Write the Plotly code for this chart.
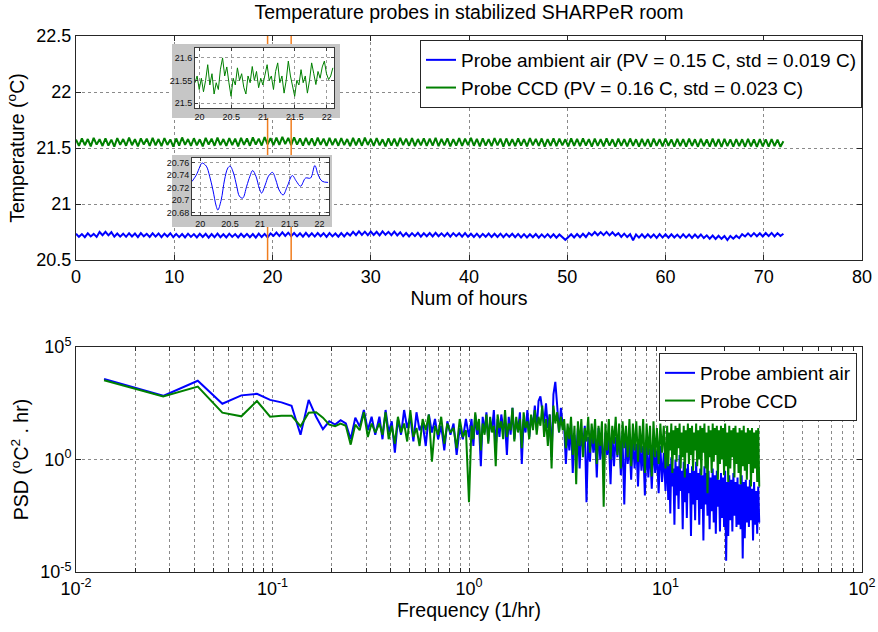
import numpy as np
import plotly.graph_objects as go

FONT = "Liberation Sans, Arial, sans-serif"
BLUE = "#0000ff"
GREEN = "#008000"
ORANGE = "#f07d1e"

# ---------------- data: temperature time series (every 0.3 h) ----------------
hours = np.round(np.arange(241) * 0.3, 1)
temp_air = [
    20.735, 20.707, 20.731, 20.704, 20.738, 20.71, 20.733, 20.706, 20.75, 20.722,
    20.752, 20.72, 20.748, 20.708, 20.737, 20.709, 20.735, 20.707, 20.739, 20.71,
    20.736, 20.705, 20.74, 20.711, 20.734, 20.706, 20.738, 20.709, 20.737, 20.704,
    20.735, 20.71, 20.739, 20.703, 20.733, 20.704, 20.732, 20.702, 20.735, 20.706,
    20.731, 20.701, 20.734, 20.705, 20.733, 20.7, 20.732, 20.703, 20.736, 20.704,
    20.73, 20.702, 20.735, 20.706, 20.731, 20.701, 20.734, 20.705, 20.733, 20.703,
    20.732, 20.7, 20.736, 20.705, 20.733, 20.702, 20.737, 20.716, 20.745, 20.714,
    20.747, 20.715, 20.744, 20.713, 20.741, 20.711, 20.739, 20.708, 20.742, 20.71,
    20.738, 20.709, 20.741, 20.712, 20.739, 20.707, 20.74, 20.711, 20.737, 20.708,
    20.74, 20.71, 20.742, 20.718, 20.752, 20.722, 20.755, 20.724, 20.753, 20.721,
    20.754, 20.723, 20.752, 20.72, 20.756, 20.725, 20.751, 20.722, 20.754, 20.72,
    20.748, 20.712, 20.741, 20.71, 20.74, 20.713, 20.742, 20.709, 20.739, 20.712,
    20.741, 20.71, 20.743, 20.712, 20.738, 20.711, 20.741, 20.709, 20.74, 20.713,
    20.739, 20.708, 20.74, 20.707, 20.734, 20.706, 20.735, 20.704, 20.733, 20.707,
    20.736, 20.705, 20.734, 20.706, 20.735, 20.703, 20.733, 20.707, 20.734, 20.704,
    20.733, 20.702, 20.731, 20.701, 20.73, 20.703, 20.732, 20.7, 20.729, 20.702,
    20.731, 20.701, 20.73, 20.699, 20.728, 20.702, 20.68, 20.704, 20.73, 20.701,
    20.732, 20.703, 20.734, 20.705, 20.742, 20.72, 20.75, 20.721, 20.749, 20.722,
    20.751, 20.72, 20.748, 20.718, 20.74, 20.706, 20.735, 20.705, 20.73, 20.676,
    20.728, 20.7, 20.73, 20.699, 20.729, 20.701, 20.728, 20.698, 20.731, 20.7,
    20.729, 20.699, 20.73, 20.701, 20.727, 20.698, 20.729, 20.7, 20.728, 20.697,
    20.727, 20.699, 20.728, 20.696, 20.72, 20.69, 20.718, 20.688, 20.716, 20.689,
    20.715, 20.678, 20.714, 20.69, 20.717, 20.695, 20.73, 20.71, 20.738, 20.711,
    20.74, 20.712, 20.739, 20.71, 20.741, 20.713, 20.742, 20.711, 20.74, 20.714,
    20.735,
]
temp_ccd = [
    21.575, 21.52, 21.585, 21.525, 21.58, 21.515, 21.59, 21.53, 21.578, 21.518,
    21.585, 21.522, 21.575, 21.512, 21.588, 21.528, 21.58, 21.52, 21.592, 21.525,
    21.578, 21.515, 21.586, 21.53, 21.583, 21.518, 21.59, 21.524, 21.58, 21.516,
    21.588, 21.527, 21.576, 21.512, 21.585, 21.522, 21.594, 21.528, 21.58, 21.519,
    21.587, 21.524, 21.578, 21.514, 21.59, 21.53, 21.584, 21.52, 21.592, 21.526,
    21.58, 21.518, 21.588, 21.525, 21.583, 21.515, 21.59, 21.528, 21.585, 21.52,
    21.595, 21.53, 21.584, 21.522, 21.598, 21.532, 21.588, 21.525, 21.592, 21.528,
    21.6, 21.534, 21.59, 21.526, 21.596, 21.53, 21.585, 21.522, 21.59, 21.527,
    21.586, 21.52, 21.592, 21.528, 21.584, 21.518, 21.59, 21.525, 21.583, 21.52,
    21.588, 21.526, 21.58, 21.516, 21.59, 21.524, 21.585, 21.52, 21.592, 21.527,
    21.582, 21.518, 21.588, 21.523, 21.578, 21.514, 21.586, 21.522, 21.584, 21.517,
    21.59, 21.525, 21.583, 21.52, 21.588, 21.516, 21.58, 21.523, 21.587, 21.518,
    21.584, 21.521, 21.59, 21.516, 21.582, 21.524, 21.586, 21.515, 21.58, 21.522,
    21.588, 21.518, 21.584, 21.525, 21.59, 21.52, 21.582, 21.514, 21.586, 21.521,
    21.58, 21.516, 21.588, 21.523, 21.583, 21.513, 21.585, 21.52, 21.58, 21.517,
    21.586, 21.522, 21.579, 21.515, 21.588, 21.524, 21.582, 21.518, 21.585, 21.512,
    21.58, 21.52, 21.587, 21.517, 21.583, 21.523, 21.578, 21.514, 21.586, 21.52,
    21.582, 21.516, 21.585, 21.522, 21.579, 21.513, 21.584, 21.519, 21.58, 21.515,
    21.586, 21.521, 21.578, 21.512, 21.583, 21.518, 21.58, 21.514, 21.585, 21.52,
    21.578, 21.513, 21.582, 21.517, 21.579, 21.511, 21.584, 21.519, 21.58, 21.515,
    21.583, 21.52, 21.577, 21.512, 21.582, 21.516, 21.579, 21.513, 21.584, 21.518,
    21.578, 21.511, 21.581, 21.517, 21.576, 21.512, 21.583, 21.515, 21.579, 21.51,
    21.582, 21.516, 21.577, 21.513, 21.58, 21.517, 21.578, 21.511, 21.581, 21.514,
    21.576, 21.51, 21.58, 21.515, 21.577, 21.512, 21.579, 21.516, 21.575, 21.511,
    21.56,
]
marker_hours = [19.5, 21.9]
temp_range = [20.5, 22.5]
temp_ticks = [20.5, 21, 21.5, 22, 22.5]
temp_ticktext = ["20.5", "21", "21.5", "22", "22.5"]
hour_ticks = [0, 10, 20, 30, 40, 50, 60, 70, 80]

# ---------------- data: zoomed insets ----------------
inset_ccd_hours = np.linspace(19.93, 22.097, 66)
inset_ccd_temp = [
    21.545, 21.56, 21.53, 21.555, 21.525, 21.55, 21.585, 21.54, 21.565, 21.52,
    21.545, 21.53, 21.575, 21.6, 21.56, 21.58, 21.545, 21.515, 21.555, 21.54,
    21.578, 21.55, 21.565, 21.535, 21.52, 21.56, 21.545, 21.581, 21.55, 21.57,
    21.534, 21.555, 21.54, 21.565, 21.585, 21.55, 21.56, 21.53, 21.57, 21.589,
    21.545, 21.56, 21.522, 21.55, 21.593, 21.56, 21.535, 21.515, 21.55, 21.54,
    21.574, 21.545, 21.56, 21.522, 21.55, 21.589, 21.565, 21.541, 21.57, 21.555,
    21.58, 21.593, 21.565, 21.552, 21.56, 21.578,
]
inset_ccd_yticks = [21.5, 21.55, 21.6]
inset_ccd_yticktext = ["21.5", "21.55", "21.6"]

inset_air_hours = [
    19.861, 19.933, 20.017, 20.033, 20.1, 20.156, 20.211, 20.267, 20.294, 20.35,
    20.406, 20.461, 20.5, 20.556, 20.611, 20.656, 20.711, 20.778, 20.833, 20.878,
    20.933, 20.989, 21.028, 21.089, 21.144, 21.211, 21.267, 21.322, 21.389, 21.461,
    21.544, 21.611, 21.683, 21.767, 21.85, 21.922, 21.978, 22.044, 22.144,
]
inset_air_temp = [
    20.7296, 20.74, 20.758, 20.759, 20.754, 20.738, 20.716, 20.69, 20.684, 20.7,
    20.732, 20.751, 20.754, 20.743, 20.722, 20.706, 20.703, 20.722, 20.738, 20.747,
    20.738, 20.719, 20.711, 20.724, 20.738, 20.744, 20.732, 20.716, 20.708, 20.722,
    20.739, 20.73, 20.722, 20.735, 20.735, 20.755, 20.74, 20.73, 20.728,
]
inset_air_yticks = [20.68, 20.7, 20.72, 20.74, 20.76]
inset_air_yticktext = ["20.68", "20.7", "20.72", "20.74", "20.76"]
inset_xticks = [20, 20.5, 21, 21.5, 22]
inset_xticktext = ["20", "20.5", "21", "21.5", "22"]

# ---------------- data: power spectral density ----------------
psd_freq = np.concatenate([
    np.arange(1, 25) / 72.0,
    np.geomspace(0.35, 1.0, 30),
    np.geomspace(1.03, 3.0, 50),
    np.geomspace(3.05, 10.0, 60),
    np.geomspace(10.2, 30.0, 90),
])
psd_air_log10 = [
    3.58, 2.83, 3.5, 2.48, 2.85, 2.92, 2.65, 2.54, 2.39, 1.1,
    2.65, 1.9, 1.35, 1.7, 1.55, 1.75, 1.6, 0.9, 1.86, 1.46,
    2.2, 1.3, 1.9, 1.1,
    # 0.35 - 1
    1.9, 0.9, 2.2, 1.2, 1.7, 0.3, 1.8, 1.1, 2.2, 1.4,
    1.9, 0.8, 2.1, 1.3, 1.6, 0.6, 2.0, 1.2, 1.8, 0.9,
    1.5, 0.4, 1.7, 1.1, 1.6, 0.2, 1.4, 0.9, 1.8, 1.0,
    # 1 - 3
    1.8, 0.6, 2.0, 1.1, 1.6, -0.3, 1.9, 1.2, 2.1, 0.8,
    1.7, 1.3, 2.2, 0.5, 1.8, 1.0, 2.0, 1.4, 1.6, 0.2,
    1.9, 1.1, 2.3, 0.9, 1.7, 1.3, 2.1, -0.2, 1.8, 1.2,
    2.2, 1.0, 1.9, 1.5, 2.4, 1.3, 2.6, 2.8, 2.2, 1.6,
    2.5, 1.4, 2.0, 0.1, 2.9, 3.45, 2.4, 1.2, 2.3, 1.5,
    # 3 - 10
    1.5, -0.2, 1.3, 0.4, 1.6, -0.6, 1.1, 0.2, 1.4, -0.4,
    1.2, 0.5, 1.5, -1.9, 1.0, -0.1, 1.3, 0.3, 1.1, -0.8,
    1.4, 0.0, 1.0, -0.5, 1.2, 0.2, 0.9, -1.1, 1.3, -0.3,
    1.0, 0.1, 1.2, -0.7, 0.9, -2.0, 1.1, -0.2, 0.8, -0.9,
    1.0, -0.4, 0.7, -1.2, 0.9, -0.5, 0.6, -1.6, 0.8, -0.8,
    0.5, -1.3, 0.7, -0.6, 0.4, -1.5, 0.6, -1.0, 0.3, -1.4,
    # 10 - 30
    0.3, -1.8, -0.2, -2.4, 0.1, -1.2, -0.4, -2.9, 0.0, -1.6,
    -0.3, -2.2, 0.2, -1.4, -0.5, -3.1, -0.1, -1.9, -0.4, -2.6,
    -0.2, -1.5, -0.6, -3.4, -0.3, -2.0, -0.5, -2.7, -0.1, -1.8,
    -0.6, -2.9, -0.4, -2.2, -0.7, -3.6, -0.3, -2.0, -0.6, -2.5,
    -0.5, -3.1, -0.8, -2.3, -0.4, -2.8, -0.7, -3.3, -0.5, -2.1,
    -0.9, -3.2, -0.6, -2.6, -0.8, -3.0, -0.5, -4.5, -1.0, -3.4,
    -0.7, -2.7, -0.9, -3.2, -0.6, -2.5, -1.0, -3.0, -0.8, -2.9,
    -1.1, -3.1, -0.7, -4.4, -1.0, -3.5, -0.9, -2.8, -1.2, -3.0,
    -0.9, -2.7, -1.3, -3.6, -1.0, -2.9, -1.4, -3.3, -1.2, -2.8,
]
psd_ccd_log10 = [
    3.52, 2.8, 3.24, 2.08, 1.92, 2.6, 1.9, 1.95, 1.95, 1.48,
    2.08, 2.1, 1.86, 1.55, 1.48, 1.6, 1.5, 0.66, 1.55, 1.3,
    2.1, 1.0, 1.6, 1.2,
    # 0.35 - 1
    1.6, 1.1, 2.1, 0.9, 1.5, 0.7, 1.9, 1.2, 1.6, 0.8,
    2.2, 1.0, 1.4, 0.6, 1.8, 1.3, 2.0, -0.1, 1.5, 1.1,
    1.9, 0.7, 1.6, 1.2, 1.4, 0.5, 1.8, 1.0, 1.3, -1.9,
    # 1 - 3
    1.5, 0.9, 2.1, 1.3, 1.8, 0.4, 1.6, 1.1, 2.0, 0.7,
    1.9, 1.2, 1.5, -0.3, 2.0, 1.4, 1.7, 0.9, 2.2, 1.0,
    1.6, 1.3, 2.3, 0.8, 1.9, 1.2, 1.8, 0.5, 2.1, 1.4,
    1.7, 0.9, 2.0, 1.3, 2.2, 1.1, 1.9, 1.5, 2.4, 1.0,
    1.8, 0.6, 2.0, -0.4, 2.4, 1.6, 2.1, 1.2, 1.9, 1.3,
    # 3 - 10
    1.8, 0.5, 1.6, 0.9, 1.9, 0.2, 1.5, -1.1, 1.7, 0.6,
    1.8, 0.1, 1.4, 0.8, 1.9, 0.3, 1.6, 0.7, 1.8, -0.2,
    1.5, 0.6, 1.7, -2.1, 1.6, 0.4, 1.8, 0.0, 1.5, 0.7,
    1.9, 0.2, 1.6, -0.4, 1.7, 0.5, 1.5, 0.1, 1.8, -0.3,
    1.6, 0.4, 1.7, -0.1, 1.5, 0.3, 1.8, -0.6, 1.6, 0.2,
    1.5, -0.75, 1.7, 0.1, 1.4, -0.2, 1.6, 0.3, 1.5, -0.4,
    # 10 - 30
    1.5, -0.3, 1.2, 0.4, 1.6, -0.6, 1.3, 0.2, 1.5, -0.1,
    1.4, 0.5, 1.6, -0.4, 1.2, 0.1, 1.5, -0.8, 1.3, 0.3,
    1.6, -0.2, 1.4, 0.2, 1.5, -0.5, 1.2, 0.4, 1.6, -0.3,
    1.3, 0.0, 1.5, -0.7, 1.4, 0.3, 1.6, -0.4, 1.2, -1.5,
    1.5, 0.1, 1.3, -0.6, 1.6, -0.1, 1.4, 0.2, 1.5, -0.9,
    1.3, -0.2, 1.5, 0.0, 1.4, -0.7, 1.6, -0.3, 1.2, -1.0,
    1.5, -0.4, 1.3, 0.1, 1.4, -0.8, 1.5, -0.2, 1.2, -0.6,
    1.4, -1.1, 1.3, -0.3, 1.5, -0.5, 1.2, -0.9, 1.4, -0.2,
    1.3, -1.2, 1.4, -0.6, 1.2, -0.4, 1.3, -1.0, 1.4, -1.2,
]
freq_decades = [-2, -1, 0, 1, 2]
psd_decades = [-5, 0, 5]

names_top = ["Probe ambient air (PV = 0.15 C, std = 0.019 C)",
             "Probe CCD (PV = 0.16 C, std = 0.023 C)"]
names_bottom = ["Probe ambient air", "Probe CCD"]

assert len(temp_air) == len(hours) and len(temp_ccd) == len(hours)
assert len(inset_ccd_temp) == len(inset_ccd_hours)
assert len(inset_air_temp) == len(inset_air_hours)
assert len(psd_air_log10) == len(psd_freq) and len(psd_ccd_log10) == len(psd_freq)

psd_air = 10.0 ** np.array(psd_air_log10)
psd_ccd = 10.0 ** np.array(psd_ccd_log10)

# ---------------- figure ----------------
fig = go.Figure()

# top panel
fig.add_trace(go.Scatter(x=hours, y=temp_air, mode="lines", name=names_top[0],
                         line=dict(color=BLUE, width=2), xaxis="x", yaxis="y", legend="legend"))
fig.add_trace(go.Scatter(x=hours, y=temp_ccd, mode="lines", name=names_top[1],
                         line=dict(color=GREEN, width=2), xaxis="x", yaxis="y", legend="legend"))
for h in marker_hours:
    fig.add_trace(go.Scatter(x=[h, h], y=temp_range, mode="lines", showlegend=False,
                             line=dict(color=ORANGE, width=1.5), xaxis="x", yaxis="y"))

# bottom panel
fig.add_trace(go.Scatter(x=psd_freq, y=psd_air, mode="lines", name=names_bottom[0],
                         line=dict(color=BLUE, width=2), xaxis="x2", yaxis="y2", legend="legend2"))
fig.add_trace(go.Scatter(x=psd_freq, y=psd_ccd, mode="lines", name=names_bottom[1],
                         line=dict(color=GREEN, width=2), xaxis="x2", yaxis="y2", legend="legend2"))

# inset frames (gray) and insets
fig.add_trace(go.Scatter(x=[], y=[], xaxis="x3", yaxis="y3", showlegend=False, hoverinfo="skip"))
fig.add_trace(go.Scatter(x=inset_ccd_hours, y=inset_ccd_temp, mode="lines", showlegend=False,
                         line=dict(color=GREEN, width=1), xaxis="x4", yaxis="y4"))
fig.add_trace(go.Scatter(x=[], y=[], xaxis="x5", yaxis="y5", showlegend=False, hoverinfo="skip"))
fig.add_trace(go.Scatter(x=inset_air_hours, y=inset_air_temp, mode="lines", showlegend=False,
                         line=dict(color=BLUE, width=1, shape="spline"), xaxis="x6", yaxis="y6"))

AX = "#262626"
GRID = "#8a8a8a"
TICK_SIZE = 18
TEXT_SIZE = 19.5
LEGEND_SIZE = 19
main_axis = dict(showline=True, linecolor=AX, linewidth=1, mirror="ticks", ticks="inside",
                 ticklen=5, tickcolor=AX, showgrid=True, gridcolor=GRID, griddash="dot",
                 gridwidth=1, zeroline=False, automargin=False,
                 tickfont=dict(family=FONT, size=TICK_SIZE, color="#000"),
                 title_font=dict(family=FONT, size=TEXT_SIZE, color="#000"))
inset_axis = dict(showline=True, linecolor="#3a3a3a", linewidth=1, mirror="ticks", ticks="inside",
                  ticklen=3, tickcolor="#3a3a3a", showgrid=True, gridcolor="#9a9a9a", griddash="dot",
                  gridwidth=1, zeroline=False, automargin=False,
                  tickfont=dict(family=FONT, size=9, color="#111"))
frame_axis = dict(visible=False, range=[0, 1], fixedrange=True, showgrid=False, zeroline=False,
                  automargin=False)

XDOM = [76 / 878, 862 / 878]

log_tickvals = []
log_ticktext = []
for e in freq_decades:
    for m in range(1, 10):
        if e == freq_decades[-1] and m > 1:
            break
        log_tickvals.append(m * 10.0 ** e)
        log_ticktext.append("10<sup>%d</sup>" % e if m == 1 else "")

fig.update_layout(
    width=878, height=632,
    margin=dict(l=0, r=0, t=0, b=0, autoexpand=False),
    paper_bgcolor="white", plot_bgcolor="#ffffff",
    font=dict(family=FONT, size=TEXT_SIZE, color="#000"),
    title=dict(text="Temperature probes in stabilized SHARPeR room", x=469 / 878, xanchor="center",
               y=1 - 12 / 632, yanchor="middle", font=dict(family=FONT, size=TEXT_SIZE, color="#000")),
    xaxis=dict(main_axis, domain=XDOM, range=[0, 80], tickvals=hour_ticks, anchor="y",
               title=dict(text="Num of hours", standoff=4)),
    yaxis=dict(main_axis, domain=[1 - 260 / 632, 1 - 36 / 632], range=temp_range,
               tickvals=temp_ticks, ticktext=temp_ticktext, anchor="x",
               title=dict(text="Temperature (<sup>o</sup>C)", standoff=6)),
    xaxis2=dict(main_axis, type="log", domain=XDOM, range=[freq_decades[0], freq_decades[-1]],
                tickvals=log_tickvals, ticktext=log_ticktext, anchor="y2", ticklen=4,
                title=dict(text="Frequency (1/hr)", standoff=4)),
    yaxis2=dict(main_axis, type="log", domain=[1 - 572 / 632, 1 - 347 / 632],
                range=[psd_decades[0], psd_decades[-1]],
                tickvals=[10.0 ** e for e in psd_decades],
                ticktext=["10<sup>%d</sup>" % e for e in psd_decades], anchor="x2",
                title=dict(text="PSD (<sup>o</sup>C<sup>2</sup> . hr)", standoff=6)),
    xaxis3=dict(frame_axis, domain=[172 / 878, 340 / 878], anchor="y3"),
    yaxis3=dict(frame_axis, domain=[1 - 118 / 632, 1 - 44 / 632], anchor="x3"),
    xaxis4=dict(inset_axis, domain=[195 / 878, 334 / 878], range=[19.93, 22.115],
                tickvals=inset_xticks, ticktext=inset_xticktext, anchor="y4"),
    yaxis4=dict(inset_axis, domain=[1 - 108 / 632, 1 - 48 / 632], range=[21.489, 21.622],
                tickvals=inset_ccd_yticks, ticktext=inset_ccd_yticktext, anchor="x4"),
    xaxis5=dict(frame_axis, domain=[172 / 878, 332 / 878], anchor="y5"),
    yaxis5=dict(frame_axis, domain=[1 - 227 / 632, 1 - 155 / 632], anchor="x5"),
    xaxis6=dict(inset_axis, domain=[192 / 878, 329 / 878], range=[19.86, 22.16],
                tickvals=inset_xticks, ticktext=inset_xticktext, anchor="y6"),
    yaxis6=dict(inset_axis, domain=[1 - 215 / 632, 1 - 158 / 632], range=[20.676, 20.767],
                tickvals=inset_air_yticks, ticktext=inset_air_yticktext, anchor="x6"),
    legend=dict(x=862 / 878, xanchor="right", y=1 - 40 / 632, yanchor="top",
                bordercolor=AX, borderwidth=1, bgcolor="white",
                font=dict(family=FONT, size=LEGEND_SIZE, color="#000"), tracegroupgap=0),
    legend2=dict(x=857 / 878, xanchor="right", y=1 - 353 / 632, yanchor="top",
                 bordercolor=AX, borderwidth=1, bgcolor="white",
                 font=dict(family=FONT, size=LEGEND_SIZE, color="#000"), tracegroupgap=0),
    shapes=[
        dict(type="rect", xref="x3", yref="y3", x0=0, x1=1, y0=0, y1=1,
             fillcolor="#c6c6c6", line=dict(width=0), layer="below"),
        dict(type="rect", xref="x5", yref="y5", x0=0, x1=1, y0=0, y1=1,
             fillcolor="#c6c6c6", line=dict(width=0), layer="below"),
    ],
    showlegend=True,
)

fig.write_html("out.html", config={"displayModeBar": False},
               post_script="document.body.style.margin='0';document.body.style.padding='0';")
